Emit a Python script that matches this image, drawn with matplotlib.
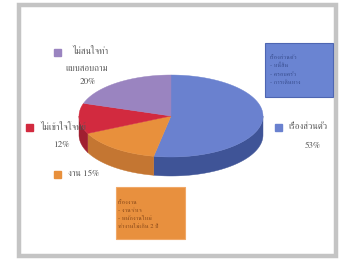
import numpy as np
import matplotlib
matplotlib.use("Agg")
import matplotlib.pyplot as plt
from matplotlib import font_manager
from matplotlib.ft2font import FT2Font
from matplotlib.patches import Polygon, Rectangle

# slice data (clockwise from 12 o'clock)
labels = ["เรื่องส่วนตัว", "งาน", "ไม่เข้าใจโจทย์", "ไม่สนใจทำแบบสอบถาม"]
values = [53, 15, 12, 20]
top_colors = ["#6a81cf", "#e8903c", "#d22a3f", "#9a84c0"]
side_colors = ["#3f5497", "#c47632", "#a01f30", "#6f5c93"]

blue_note = ["เรื่องส่วนตัว", "- หนี้สิน", "- ครอบครัว", "- การเดินทาง"]
orange_note = ["เรื่องงาน", "- งานจำเจ", "- พนักงานใหม่", "ทำงานไม่เกิน 2 ปี"]


def thai_family():
    found = []
    for f in font_manager.fontManager.ttflist:
        try:
            if 0x0E01 in FT2Font(f.fname).get_charmap():
                found.append(f.name)
        except Exception:
            pass
    serif = [n for n in found if "serif" in n.lower() and "sans" not in n.lower()]
    if serif:
        return serif[0]
    return found[0] if found else "DejaVu Sans"


plt.rcParams["font.family"] = [thai_family(), "DejaVu Sans"]

fig = plt.figure(figsize=(3.39, 2.59), dpi=100)
ax = fig.add_axes([0, 0, 1, 1])
ax.set_xlim(0, 339)
ax.set_ylim(259, 0)
ax.axis("off")

# scanned frame
ax.add_patch(Rectangle((19, 5), 317, 251, facecolor="white",
                       edgecolor="#c4c4c4", lw=3.2))

# 3D pie geometry (pixels)
cx, cy, rx, ry, depth = 171, 116, 92, 41, 19
fracs = np.array(values) / sum(values)
ends = 90 - 360 * np.cumsum(fracs)
starts = np.concatenate([[90], ends[:-1]])


def pt(t):
    r = np.radians(t)
    return cx + rx * np.cos(r), cy - ry * np.sin(r)


# side walls (front half: 180..360 deg)
for s, e, c in zip(starts, ends, side_colors):
    lo, hi = min(s, e), max(s, e)
    for shift in (0, 360, -360):
        a, b = max(lo + shift, 180), min(hi + shift, 360)
        if b > a:
            t = np.linspace(a, b, 60)
            x, y = pt(t)
            xs = np.concatenate([x, x[::-1]])
            ys = np.concatenate([y, (y + depth)[::-1]])
            ax.add_patch(Polygon(np.column_stack([xs, ys]), closed=True,
                                 facecolor=c, edgecolor=c, lw=0.3))

# top faces
for s, e, c in zip(starts, ends, top_colors):
    t = np.linspace(s, e, 80)
    x, y = pt(t)
    xs = np.concatenate([[cx], x])
    ys = np.concatenate([[cy], y])
    ax.add_patch(Polygon(np.column_stack([xs, ys]), closed=True,
                         facecolor=c, edgecolor=c, lw=0.3))

txt = dict(color="#555555", fontsize=6.6, va="center")
sq = 7

# purple label
ax.add_patch(Rectangle((57 - sq / 2, 52 - sq / 2), sq, sq, color=top_colors[3]))
ax.text(72, 52, "ไม่สนใจทำ", ha="left", **txt)
ax.text(87, 69, "แบบสอบถาม", ha="center", **txt)
ax.text(88, 82, f"{values[3]}%", ha="center", **txt)

# red label
ax.add_patch(Rectangle((29 - sq / 2, 127 - sq / 2), sq, sq, color=top_colors[2]))
ax.text(40, 127, labels[2], ha="left", **txt)
ax.text(62, 145, f"{values[2]}%", ha="center", **txt)

# orange label
ax.add_patch(Rectangle((57 - sq / 2, 174 - sq / 2), sq, sq, color=top_colors[1]))
ax.text(68, 174, f"{labels[1]} {values[1]}%", ha="left", **txt)

# blue label
ax.add_patch(Rectangle((278 - sq / 2, 127 - sq / 2), sq, sq, color=top_colors[0]))
ax.text(288, 127, labels[0], ha="left", **txt)
ax.text(313, 146, f"{values[0]}%", ha="center", **txt)

# note boxes
ax.add_patch(Rectangle((265, 43), 68, 54, facecolor="#6a84d2",
                       edgecolor="#4e66b2", lw=0.8))
for i, line in enumerate(blue_note):
    ax.text(270, 57 + i * 8.6, line, ha="left", va="center",
            color="#3a4f90", fontsize=4.6)

ax.add_patch(Rectangle((116, 187), 69, 52, facecolor="#e8903e",
                       edgecolor="#f0a868", lw=0.8))
for i, line in enumerate(orange_note):
    ax.text(118, 202 + i * 8, line, ha="left", va="center",
            color="#8a4a1a", fontsize=4.6)

fig.savefig("out.png", dpi=100)
